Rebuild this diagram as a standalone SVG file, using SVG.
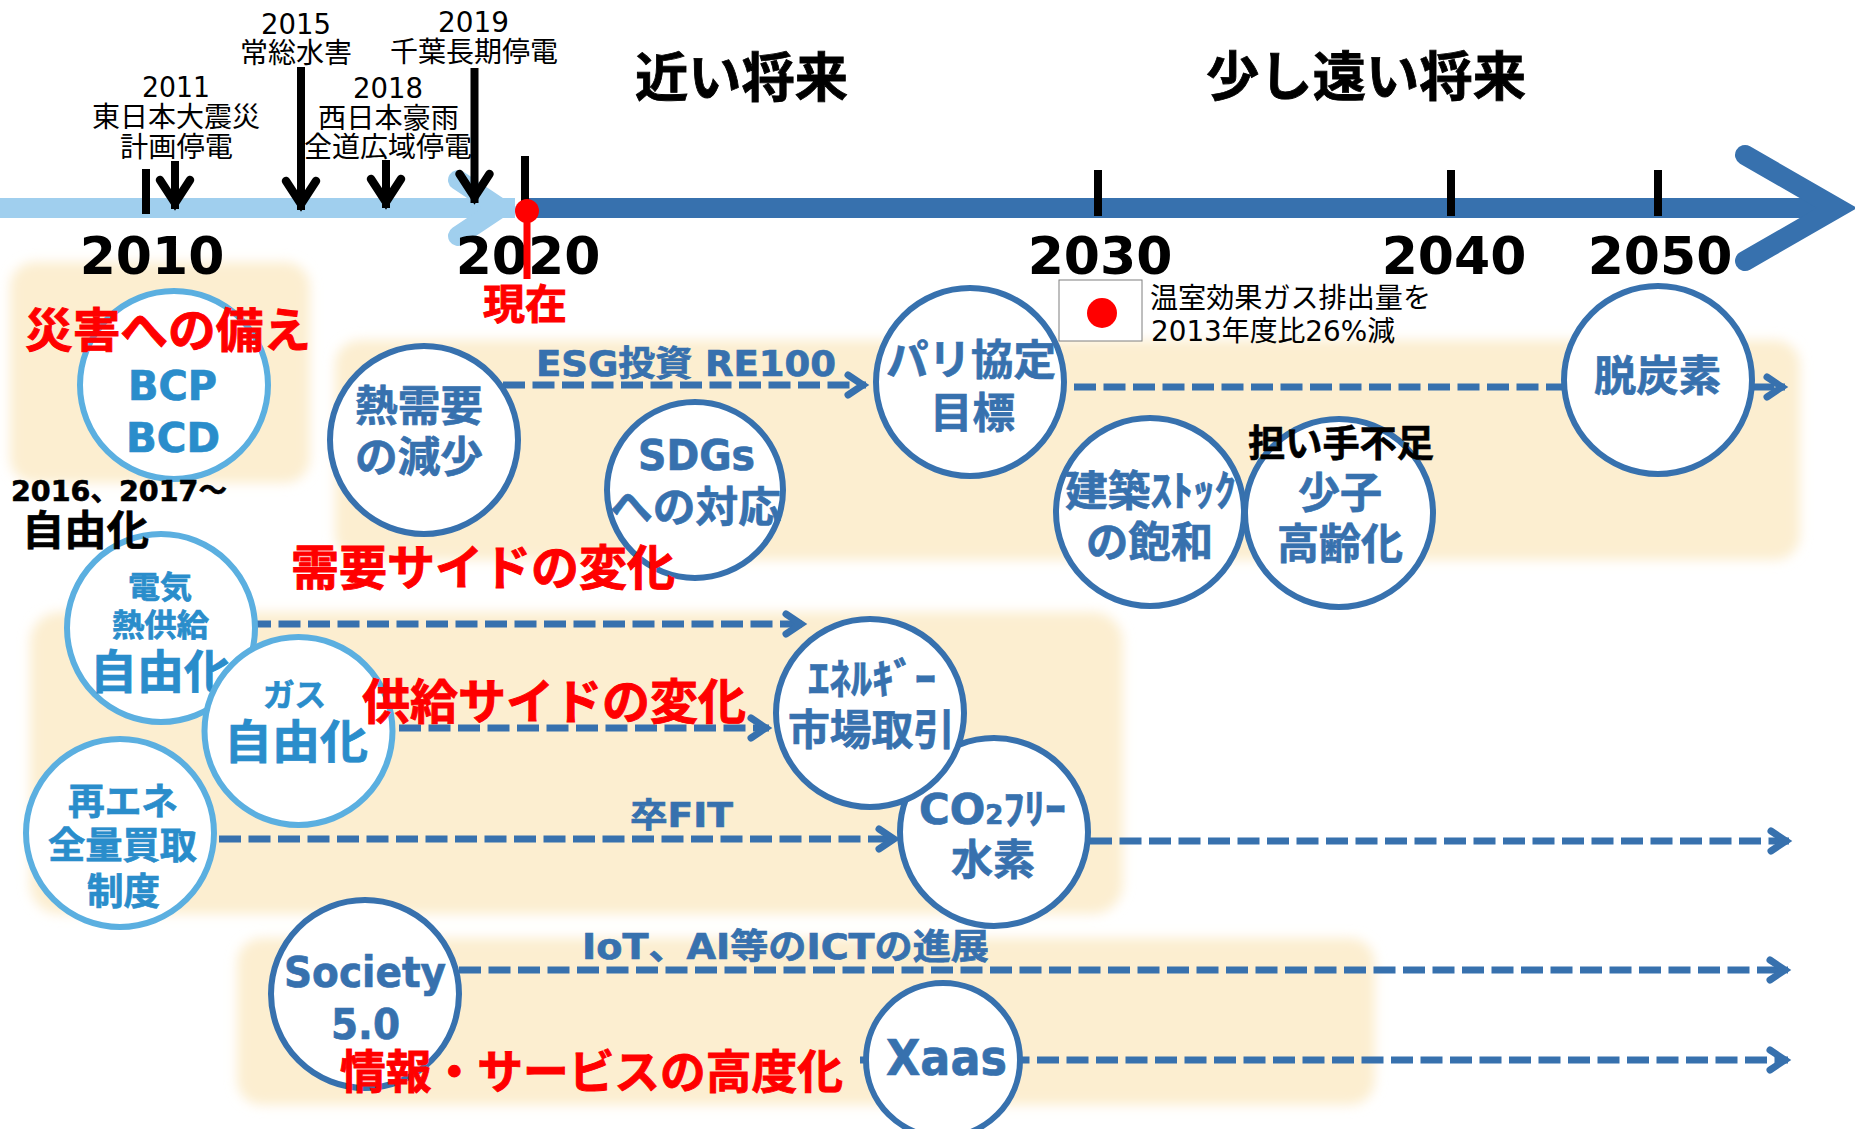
<svg xmlns="http://www.w3.org/2000/svg" width="1855" height="1129" viewBox="0 0 1855 1129">
<style>
text{font-family:"DejaVu Sans","Noto Sans CJK JP",sans-serif}
.thin{font-size:28px;fill:#000;font-weight:400}
.yr{font-size:52px;font-weight:700;fill:#000;text-anchor:middle}
.head{font-size:53px;font-weight:700;fill:#000;stroke:#000;stroke-width:.8}
.red{font-weight:700;fill:#f00;stroke:#f00;stroke-width:.9}
.dk{font-weight:700;fill:#3771ae;stroke:#3771ae;stroke-width:.7}
.lt{font-weight:700;fill:#2a8dcb;stroke:#2a8dcb;stroke-width:.7}
.blk{font-weight:700;fill:#000;stroke:#000;stroke-width:.6}
.band{fill:#fceed0;filter:url(#soft)}
.cd{fill:#fff;stroke:#3771ae;stroke-width:6}
.cl{fill:#fff;stroke:#5bafe0;stroke-width:6}
.dash{fill:none;stroke:#3771ae;stroke-width:7;stroke-dasharray:22 7.5;marker-end:url(#chev)}
.tick{stroke:#000;stroke-width:8;fill:none}
.drop{stroke:#000;stroke-width:8;fill:none;marker-end:url(#blk)}
</style>
<defs>
<filter id="soft" x="-10%" y="-15%" width="120%" height="130%"><feGaussianBlur stdDeviation="6"/></filter>
<marker id="chev" markerUnits="userSpaceOnUse" viewBox="-28 -18 32 36" refX="0" refY="0" markerWidth="32" markerHeight="36" orient="auto"><path d="M-18,-10 L-3,0 L-18,10" fill="none" stroke="#3771ae" stroke-width="7" stroke-linecap="round"/></marker>
<marker id="blk" markerUnits="userSpaceOnUse" viewBox="-40 -24 48 48" refX="0" refY="0" markerWidth="48" markerHeight="48" orient="auto"><path d="M-29,-15 L-6,0 L-29,15" fill="none" stroke="#000" stroke-width="8.500" stroke-linecap="round"/></marker>
</defs>

<g id="bands">
<rect class="band" x="10" y="262" width="300" height="221" rx="25"/>
<rect class="band" x="335" y="340" width="1465" height="220" rx="25"/>
<rect class="band" x="30" y="612" width="1093" height="302" rx="30"/>
<rect class="band" x="237" y="938" width="1138" height="167" rx="25"/>
</g>

<g id="timeline">
<rect x="0" y="198" width="515" height="20" fill="#a0cfee"/>
<path d="M458,180 L500,208 L458,236" fill="none" stroke="#a0cfee" stroke-width="20" stroke-linecap="round"/>
<rect x="527" y="198" width="1305" height="20" fill="#3771ae"/>
<path d="M1745,155 L1837,208 L1745,261" fill="none" stroke="#3771ae" stroke-width="20" stroke-linecap="round"/>
<path class="tick" d="M146,169V214M525,156V205M1098,170V216M1451,170V216M1658,170V216"/>
<path class="drop" d="M175,161V209"/>
<path class="drop" d="M301,67V210"/>
<path class="drop" d="M386,160V208"/>
<path class="drop" d="M474.500,68V203"/>
</g>

<g id="connectors">
<path class="dash" d="M503,385H866"/>
<path class="dash" d="M1074,387H1785"/>
<path class="dash" d="M249,624H804"/>
<path class="dash" d="M399,728H769"/>
<path class="dash" d="M219,839H897"/>
<path class="dash" d="M1090,841H1789"/>
<path class="dash" d="M459,970H1788"/>
<path class="dash" d="M860,1060H1788"/>
</g>

<g id="labels-years">
<text class="yr" x="152" y="274">2010</text>
<text class="yr" x="528" y="274">2020</text>
<text class="yr" x="1100" y="274">2030</text>
<text class="yr" x="1454" y="274">2040</text>
<text class="yr" x="1660" y="274">2050</text>
<text class="head" x="635" y="97" textLength="213" lengthAdjust="spacingAndGlyphs">近い将来</text>
<text class="head" x="1206" y="96" textLength="320" lengthAdjust="spacingAndGlyphs">少し遠い将来</text>
</g>

<g id="event-labels">
<text class="thin" x="142" y="97" textLength="68" lengthAdjust="spacingAndGlyphs">2011</text>
<text class="thin" x="92" y="127" textLength="168" lengthAdjust="spacingAndGlyphs">東日本大震災</text>
<text class="thin" x="120" y="157" textLength="113" lengthAdjust="spacingAndGlyphs">計画停電</text>
<text class="thin" x="261" y="34" textLength="70" lengthAdjust="spacingAndGlyphs">2015</text>
<text class="thin" x="240" y="63" textLength="112" lengthAdjust="spacingAndGlyphs">常総水害</text>
<text class="thin" x="353" y="98" textLength="70" lengthAdjust="spacingAndGlyphs">2018</text>
<text class="thin" x="318" y="128" textLength="141" lengthAdjust="spacingAndGlyphs">西日本豪雨</text>
<text class="thin" x="304" y="157" textLength="168" lengthAdjust="spacingAndGlyphs">全道広域停電</text>
<text class="thin" x="438" y="32" textLength="71" lengthAdjust="spacingAndGlyphs">2019</text>
<text class="thin" x="390" y="62" textLength="168" lengthAdjust="spacingAndGlyphs">千葉長期停電</text>
</g>

<g id="flag">
<rect x="1059" y="280" width="83" height="61" fill="#fff" stroke="#7f7f7f" stroke-width="1"/>
<circle cx="1102" cy="313" r="15" fill="#f00"/>
<text class="thin" x="1150" y="308" textLength="281" lengthAdjust="spacingAndGlyphs">温室効果ガス排出量を</text>
<text class="thin" x="1151" y="341" textLength="244" lengthAdjust="spacingAndGlyphs">2013年度比26%減</text>
</g>

<g id="node-bcp"><circle class="cl" cx="174" cy="385" r="94"/>
<text class="lt" x="128" y="400" font-size="40" textLength="89" lengthAdjust="spacingAndGlyphs">BCP</text>
<text class="lt" x="126" y="452" font-size="40" textLength="94" lengthAdjust="spacingAndGlyphs">BCD</text></g>

<g id="node-heat"><circle class="cd" cx="424" cy="440" r="94"/>
<text class="dk" x="355" y="421" font-size="42" textLength="128" lengthAdjust="spacingAndGlyphs">熱需要</text>
<text class="dk" x="355" y="472" font-size="42" textLength="128" lengthAdjust="spacingAndGlyphs">の減少</text></g>

<g id="node-sdgs"><circle class="cd" cx="695" cy="490" r="88"/>
<text class="dk" x="638" y="470" font-size="42" textLength="117" lengthAdjust="spacingAndGlyphs">SDGs</text>
<text class="dk" x="610" y="522" font-size="42" textLength="171" lengthAdjust="spacingAndGlyphs">への対応</text></g>

<g id="node-paris"><circle class="cd" cx="970" cy="382" r="94"/>
<text class="dk" x="886" y="375" font-size="42" textLength="170" lengthAdjust="spacingAndGlyphs">パリ協定</text>
<text class="dk" x="930" y="428" font-size="42" textLength="85" lengthAdjust="spacingAndGlyphs">目標</text></g>

<g id="node-stock"><circle class="cd" cx="1150" cy="512" r="94"/>
<text class="dk" x="1065" y="506" font-size="42" textLength="171" lengthAdjust="spacingAndGlyphs">建築ｽﾄｯｸ</text>
<text class="dk" x="1086" y="557" font-size="42" textLength="127" lengthAdjust="spacingAndGlyphs">の飽和</text></g>

<g id="node-aging"><circle class="cd" cx="1339" cy="513" r="94"/>
<text class="dk" x="1298" y="508" font-size="42" textLength="84" lengthAdjust="spacingAndGlyphs">少子</text>
<text class="dk" x="1277" y="559" font-size="42" textLength="126" lengthAdjust="spacingAndGlyphs">高齢化</text></g>

<g id="node-decarb"><circle class="cd" cx="1658" cy="380" r="94"/>
<text class="dk" x="1594" y="391" font-size="42" textLength="127" lengthAdjust="spacingAndGlyphs">脱炭素</text></g>

<g id="node-elec"><circle class="cl" cx="161" cy="628" r="94"/>
<text class="lt" x="128" y="598" font-size="31" textLength="64" lengthAdjust="spacingAndGlyphs">電気</text>
<text class="lt" x="112" y="636" font-size="31" textLength="97" lengthAdjust="spacingAndGlyphs">熱供給</text>
<text class="lt" x="90" y="688" font-size="46" textLength="141" lengthAdjust="spacingAndGlyphs">自由化</text></g>

<g id="node-gas"><circle class="cl" cx="298.500" cy="731" r="94"/>
<text class="lt" x="263" y="706" font-size="31" textLength="63" lengthAdjust="spacingAndGlyphs">ガス</text>
<text class="lt" x="224" y="758" font-size="46" textLength="144" lengthAdjust="spacingAndGlyphs">自由化</text></g>

<g id="node-fit"><circle class="cl" cx="120" cy="833" r="94"/>
<text class="lt" x="68" y="815" font-size="37" textLength="110" lengthAdjust="spacingAndGlyphs">再エネ</text>
<text class="lt" x="48" y="859" font-size="37" textLength="149" lengthAdjust="spacingAndGlyphs">全量買取</text>
<text class="lt" x="87" y="905" font-size="37" textLength="73" lengthAdjust="spacingAndGlyphs">制度</text></g>

<g id="node-h2"><circle class="cd" cx="994" cy="832" r="94"/>
<text class="dk" x="919" y="824" font-size="42" textLength="147" lengthAdjust="spacingAndGlyphs">CO<tspan font-size="26">2</tspan>ﾌﾘｰ</text>
<text class="dk" x="951" y="875" font-size="42" textLength="84" lengthAdjust="spacingAndGlyphs">水素</text></g>

<g id="node-market"><circle class="cd" cx="870" cy="713" r="94"/>
<text class="dk" x="808" y="694" font-size="42" textLength="128" lengthAdjust="spacingAndGlyphs">ｴﾈﾙｷﾞｰ</text>
<text class="dk" x="788" y="745" font-size="42" textLength="167" lengthAdjust="spacingAndGlyphs">市場取引</text></g>

<g id="node-society"><circle class="cd" cx="365" cy="994" r="94"/>
<text class="dk" x="284" y="987" font-size="42" textLength="162" lengthAdjust="spacingAndGlyphs">Society</text>
<text class="dk" x="331" y="1039" font-size="42" textLength="69" lengthAdjust="spacingAndGlyphs">5.0</text></g>

<g id="node-xaas"><circle class="cd" cx="943" cy="1060" r="77"/>
<text class="dk" x="886" y="1075" font-size="50" textLength="121" lengthAdjust="spacingAndGlyphs">Xaas</text></g>

<g id="connector-labels">
<text class="dk" x="536" y="376" font-size="35" textLength="300" lengthAdjust="spacingAndGlyphs">ESG投資  RE100</text>
<text class="dk" x="630" y="827" font-size="34" textLength="103" lengthAdjust="spacingAndGlyphs">卒FIT</text>
<text class="dk" x="582" y="959" font-size="35" textLength="407" lengthAdjust="spacingAndGlyphs">IoT、AI等のICTの進展</text>
</g>

<g id="now">
<circle cx="527" cy="211" r="12" fill="#f00"/>
<rect x="523.500" y="211" width="7" height="68" fill="#f00"/>
<text class="red" x="483" y="319" font-size="41" textLength="84" lengthAdjust="spacingAndGlyphs">現在</text>
</g>

<g id="captions">
<text class="red" x="25" y="347" font-size="47" textLength="286" lengthAdjust="spacingAndGlyphs">災害への備え</text>
<text class="blk" x="11" y="501" font-size="29" textLength="216" lengthAdjust="spacingAndGlyphs">2016、2017～</text>
<text class="blk" x="22" y="545" font-size="41" textLength="127" lengthAdjust="spacingAndGlyphs">自由化</text>
<text class="blk" x="1248" y="457" font-size="37" textLength="186" lengthAdjust="spacingAndGlyphs">担い手不足</text>
<text class="red" x="291" y="585" font-size="48" textLength="384" lengthAdjust="spacingAndGlyphs">需要サイドの変化</text>
<text class="red" x="362" y="719" font-size="48" textLength="384" lengthAdjust="spacingAndGlyphs">供給サイドの変化</text>
<text class="red" x="340" y="1088" font-size="46" textLength="503" lengthAdjust="spacingAndGlyphs">情報・サービスの高度化</text>
</g>
</svg>
